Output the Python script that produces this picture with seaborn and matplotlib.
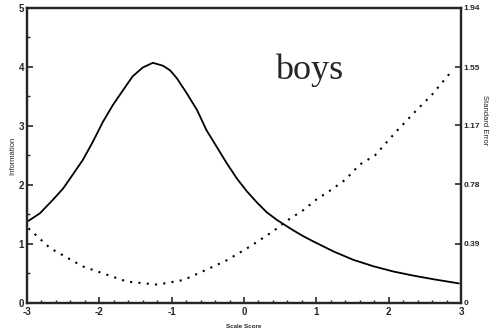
import pandas as pd
import matplotlib
matplotlib.use("Agg")
import matplotlib.pyplot as plt
import seaborn as sns
from matplotlib.ticker import MultipleLocator

# ===============================
# Test information curve (boys)
# ===============================
theta_info = [-2.98, -2.82, -2.64, -2.50, -2.37, -2.23, -2.09, -1.95, -1.81,
              -1.67, -1.54, -1.40, -1.26, -1.12, -1.02, -0.93, -0.79, -0.65,
              -0.52, -0.38, -0.24, -0.10, 0.04, 0.18, 0.31, 0.45, 0.59,
              0.68, 0.82, 0.96, 1.24, 1.51, 1.79, 2.07, 2.35, 2.62, 2.97]
information = [1.39, 1.52, 1.75, 1.94, 2.17, 2.42, 2.73, 3.07, 3.36,
               3.61, 3.84, 3.99, 4.07, 4.02, 3.94, 3.81, 3.55, 3.27,
               2.93, 2.65, 2.37, 2.11, 1.89, 1.70, 1.54, 1.41, 1.30,
               1.23, 1.13, 1.04, 0.87, 0.73, 0.62, 0.53, 0.46, 0.40, 0.33]

# Standard error curve (right axis units)
theta_se = [-2.98, -2.68, -2.23, -1.62, -1.20, -0.84, -0.51, -0.24, 0.08,
            0.40, 0.59, 0.82, 1.00, 1.21, 1.40, 1.60, 1.81, 2.11, 2.39,
            2.60, 2.88]
std_error = [0.49, 0.36, 0.24, 0.14, 0.12, 0.15, 0.22, 0.28, 0.37,
             0.47, 0.54, 0.61, 0.68, 0.745, 0.81, 0.91, 0.97, 1.13, 1.27,
             1.37, 1.53]

right_ticks = [0, 0.39, 0.78, 1.17, 1.55, 1.94]
right_labels = ["0", "0.39", "0.78", "1.17", "1.55", "1.94"]

df_info = pd.DataFrame({"theta": theta_info, "info": information})
df_se = pd.DataFrame({"theta": theta_se, "se": std_error})

sns.set_style("ticks")
plt.rcParams["font.family"] = ["Liberation Sans", "DejaVu Sans"]
plt.rcParams["axes.unicode_minus"] = False

fig = plt.figure(figsize=(4.91, 3.31), dpi=100)
ax = fig.add_axes([0.055, 0.085, 0.884, 0.891])

sns.lineplot(data=df_info, x="theta", y="info", ax=ax, color="black",
             linewidth=1.3)
ax.set_xlim(-3, 3)
ax.set_ylim(0, 5)
ax.xaxis.set_major_locator(MultipleLocator(1))
ax.xaxis.set_minor_locator(MultipleLocator(0.2))
ax.yaxis.set_major_locator(MultipleLocator(1))
ax.yaxis.set_minor_locator(MultipleLocator(0.5))
ax.tick_params(axis="both", which="major", direction="in", length=4,
               width=1.2, labelsize=7, pad=2)
ax.tick_params(axis="x", which="major", pad=3)
ax.tick_params(axis="both", which="minor", direction="in", length=2, width=1)
for lab in ax.get_xticklabels() + ax.get_yticklabels():
    lab.set_fontweight("bold")
ax.set_xlabel("Scale Score", fontsize=4.5, fontweight="bold", labelpad=5)
ax.set_ylabel("Information", fontsize=5.5, labelpad=2)
for s in ax.spines.values():
    s.set_linewidth(1.6)

ax2 = ax.twinx()
sns.lineplot(data=df_se, x="theta", y="se", ax=ax2, color="black",
             linewidth=1.5, linestyle=(0, (1, 3)))
ax2.set_ylim(0, 1.94)
ax2.set_yticks(right_ticks)
ax2.set_yticklabels(right_labels, fontweight="bold")
ax2.tick_params(axis="y", direction="in", length=4, width=1.2, labelsize=6,
                pad=2)
ax2.set_ylabel("Standard Error", fontsize=5.5, rotation=270, labelpad=1)
ax2.yaxis.set_label_coords(1.062, 0.62)
for s in ax2.spines.values():
    s.set_linewidth(1.6)

ax.text(0.43, 3.95, "boys", fontsize=26, family="Liberation Serif",
        va="center", ha="left")

fig.savefig("out.png", dpi=100)
